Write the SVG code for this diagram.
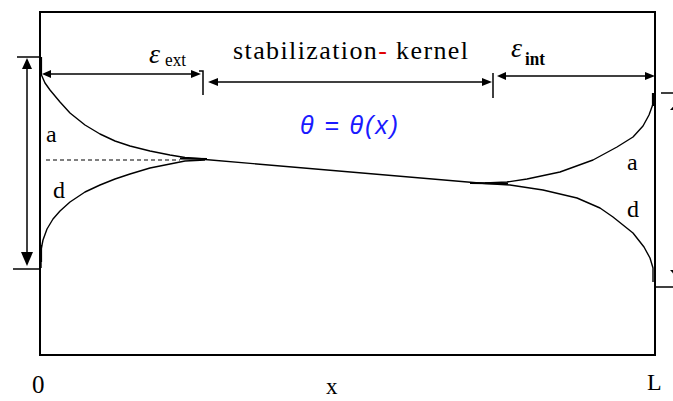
<svg xmlns="http://www.w3.org/2000/svg" width="673" height="401" viewBox="0 0 673 401">
<defs>
<style>
.ln{stroke:#000;stroke-width:1.5;fill:none}
.cv{stroke:#000;stroke-width:1.4;fill:none;stroke-linejoin:round}
.ah{fill:#000;stroke:none}
.t{font-family:"Liberation Serif","Times New Roman",serif;fill:#000}
</style>
</defs>
<rect width="673" height="401" fill="#fff"/>
<g id="frame">
<rect x="40" y="12" width="615" height="343" fill="none" stroke="#000" stroke-width="2"/>
</g>
<g id="connectors">
<line class="ln" x1="17" y1="57" x2="41" y2="57"/>
<line class="ln" x1="13" y1="269" x2="41" y2="269"/>
<line class="ln" x1="27" y1="62" x2="27" y2="262"/>
<polygon class="ah" points="27,58 22,69 32,69"/>
<polygon class="ah" points="27,266 21,252 33,252"/>
<line class="ln" x1="46" y1="74" x2="196" y2="74"/>
<polygon class="ah" points="42,74 51,70 51,78"/>
<polygon class="ah" points="201,74 191,70 191,78"/>
<polyline class="ln" points="199,71 203,71 203,95"/>
<line class="ln" x1="214" y1="82" x2="488" y2="82"/>
<polygon class="ah" points="208,82 218,78 218,86"/>
<polygon class="ah" points="492,82 482,78 482,86"/>
<line class="ln" x1="493" y1="73" x2="493" y2="98"/>
<line class="ln" x1="502" y1="76" x2="650" y2="76"/>
<polygon class="ah" points="497,76 506,72 506,80"/>
<polygon class="ah" points="655,76 645,72 645,80"/>
<line class="ln" x1="661" y1="93" x2="673" y2="93"/>
<line class="ln" x1="655" y1="287" x2="673" y2="287"/>
<polygon class="ah" points="682,97 670,110 694,110"/>
<polygon class="ah" points="682,283 670,270 694,270"/>
</g>
<g id="curves">
<line x1="41" y1="57" x2="41" y2="75" stroke="#000" stroke-width="2.2"/>
<polyline class="cv" points="41,74 45,83 50,90 55,96 60,102 70,113 85,125 100,134 115,141 130,146 150,151 170,155 185,157.5 205,159"/>
<polyline class="cv" points="41,268 41,250 43,240 47,229 53,219 60,211 70,202 85,192 100,185 115,179 130,174 150,168 170,164 185,161 205,160"/>
<line x1="41" y1="245" x2="41" y2="262" stroke="#000" stroke-width="2.2"/>
<line x1="46" y1="160" x2="180" y2="160" stroke="#000" stroke-width="1.2" stroke-dasharray="4,3"/>
<line x1="180" y1="158.5" x2="207" y2="159" stroke="#000" stroke-width="2.2"/>
<line class="cv" x1="205" y1="159.5" x2="485" y2="183.5"/>
<line x1="470" y1="183" x2="508" y2="183.5" stroke="#000" stroke-width="2.2"/>
<polyline class="cv" points="485,183 507,182 527,179 560,172 593,160 617,147 633,137 643,126 649,115 653,104 653,95"/>
<polyline class="cv" points="485,183.5 510,185 543,190 577,198 600,208 613,217 633,233 644,247 650,258 653,268 653,282"/>
<line x1="653" y1="93" x2="653" y2="106" stroke="#000" stroke-width="2.2"/>
</g>
<g id="labels">
<text class="t" x="149" y="63" font-size="28" font-style="italic">ε</text>
<text class="t" x="165" y="66" font-size="19" textLength="21" lengthAdjust="spacingAndGlyphs">ext</text>
<text class="t" x="233" y="59" font-size="26" textLength="235" lengthAdjust="spacing">stabilization<tspan fill="#e00000">-</tspan> kernel</text>
<text class="t" x="511" y="57" font-size="28" font-style="italic">ε</text>
<text class="t" x="525" y="65" font-size="18" font-weight="bold" textLength="20" lengthAdjust="spacingAndGlyphs">int</text>
<text x="300" y="134" font-family="'Liberation Sans',Arial,sans-serif" font-size="25" font-style="italic" fill="#1a1aff" textLength="98" lengthAdjust="spacing">θ = θ(x)</text>
<text class="t" x="46" y="142" font-size="24">a</text>
<text class="t" x="53" y="198" font-size="24">d</text>
<text class="t" x="627" y="170" font-size="24">a</text>
<text class="t" x="627" y="217" font-size="24">d</text>
<text class="t" x="32" y="393" font-size="25">0</text>
<text class="t" x="326" y="394" font-size="23">x</text>
<text class="t" x="647" y="390" font-size="24">L</text>
</g>
</svg>
